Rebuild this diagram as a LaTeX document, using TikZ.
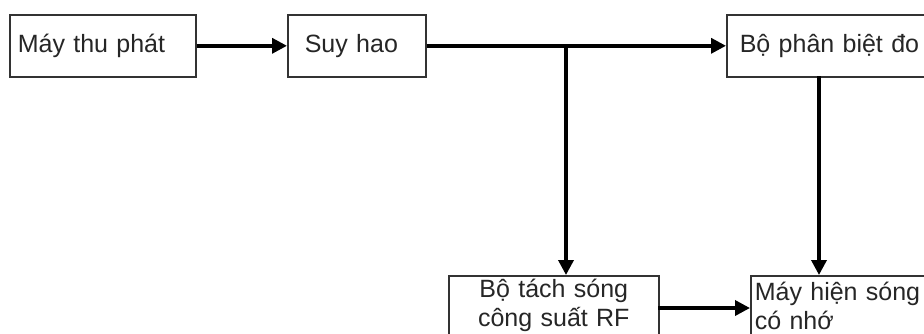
\documentclass[tikz,border=0pt]{standalone}
\usepackage{fontspec}
\setmainfont{Liberation Sans}
\usetikzlibrary{arrows.meta}
\begin{document}
\begin{tikzpicture}[x=1pt,y=-1pt,
  box/.style={draw=black!80, line width=1.6pt, fill=white, inner ysep=0pt,
    font=\fontsize{25}{29}\selectfont, text=black!85},
  conn/.style={line width=3.5pt, -{Triangle[length=15pt,width=15pt]}},
  seg/.style={line width=3.5pt}]
\clip (0,0) rectangle (924,333);
\fill[white] (0,0) rectangle (924,333);
\node[box, anchor=north west, minimum height=62pt, inner xsep=8pt, text width=170pt, align=left] (b1) at (9,14) {Máy thu phát};
\node[box, anchor=north west, minimum height=62pt, inner xsep=17pt, text width=104pt, align=left] (b2) at (287,14) {Suy hao};
\node[box, anchor=north west, minimum height=62pt, inner xsep=13pt, text width=214pt, align=left] (b3) at (726,14) {Bộ phân biệt đo};
\node[box, anchor=north west, minimum height=60pt, inner xsep=4pt, text width=202pt, align=center] (b4) at (448,275) {Bộ tách sóng\\công suất RF};
\node[box, anchor=north west, minimum height=60pt, inner xsep=4pt, text width=232pt, align=left] (b5) at (750,275) {Máy hiện sóng\\có nhớ};
\coordinate (j) at (566,45);
\coordinate (d3) at (819,76);
\coordinate (a45) at (658,308);
\draw[conn] (b1) -- (b2);
\draw[conn] (b2) -- (b3);
\draw[conn] (j) -- (j |- b4.north);
\draw[conn] (d3) -- (d3 |- b5.north);
\draw[conn] (a45) -- (a45 -| b5.west);
\end{tikzpicture}
\end{document}
